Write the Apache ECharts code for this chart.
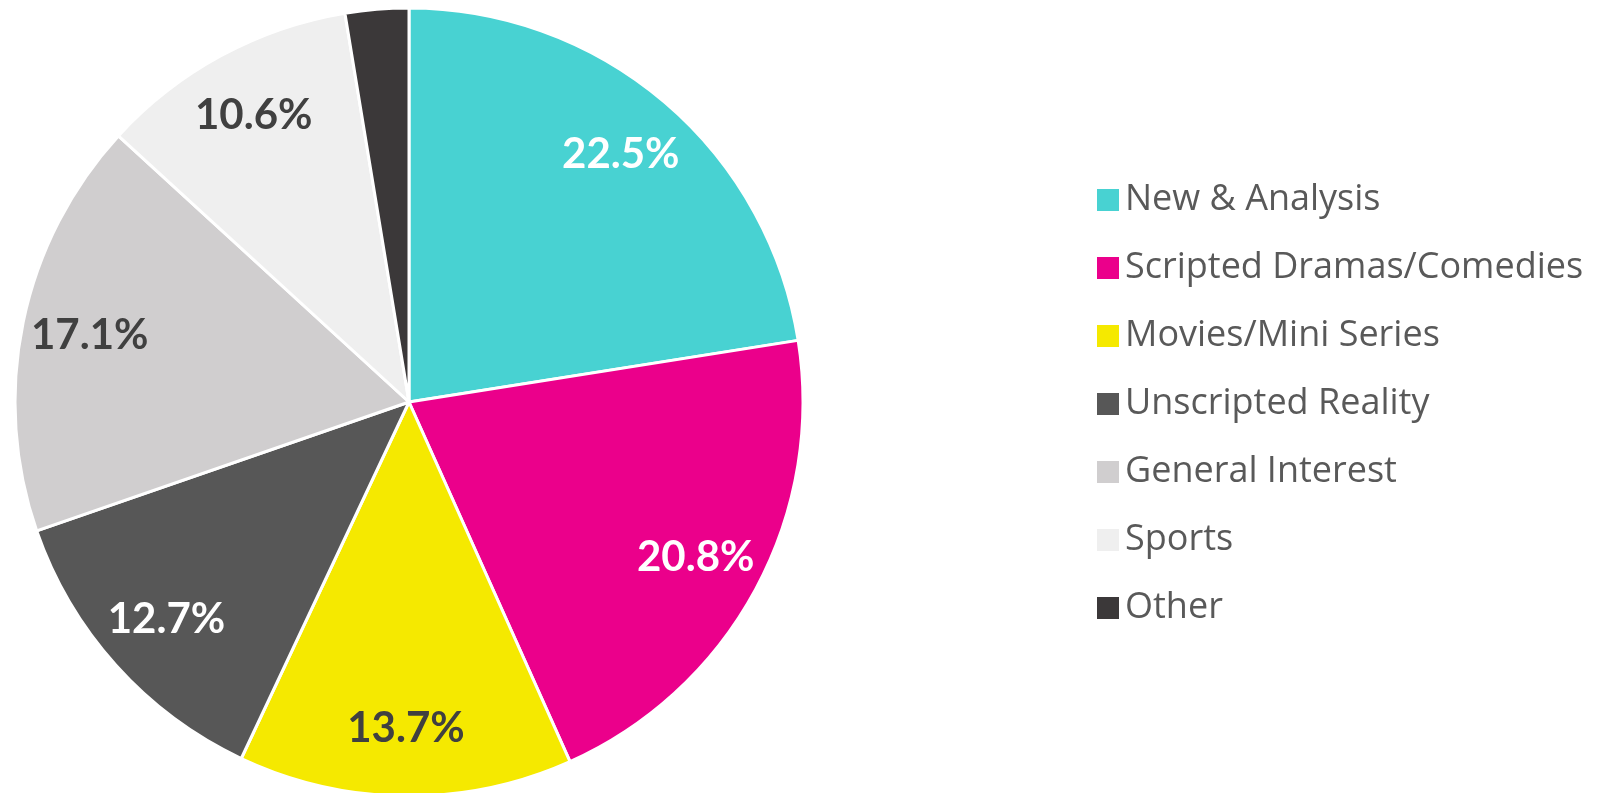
<!DOCTYPE html>
<html>
<head>
<meta charset="utf-8">
<script src="https://cdn.jsdelivr.net/npm/echarts@6/dist/echarts.min.js"></script>
<style>
  html, body { margin: 0; padding: 0; background: #fff; }
  #chart { width: 1598px; height: 793px; }
</style>
</head>
<body>
<div id="chart"></div>
<script>
const categories = ['New & Analysis', 'Scripted Dramas/Comedies', 'Movies/Mini Series',
  'Unscripted Reality', 'General Interest', 'Sports', 'Other']
const shares = [22.5, 20.8, 13.7, 12.7, 17.1, 10.6, 2.6]
const colors = ['#48d2d2', '#eb008b', '#f5e900', '#575757', '#d0cecf', '#efefef', '#3b3839']
const labelColors = ['#fff', '#fff', '#404040', '#fff', '#404040', '#404040', '#fff']
const showLabel = [true, true, true, true, true, true, false]

const center = [409, 402]
const R = 394

const chart = echarts.init(document.getElementById('chart'))

chart.setOption({
  animation: false,
  color: colors,
  legend: {
    orient: 'vertical',
    left: 1090,
    top: 177,
    icon: 'rect',
    itemWidth: 24,
    itemHeight: 24,
    itemGap: 32,
    data: categories,
    textStyle: {
      fontFamily: 'Open Sans',
      fontSize: 36,
      color: '#595959',
      padding: [0, 0, 8, 0]
    }
  },
  series: [
    {
      type: 'pie',
      center: center,
      radius: [0, R],
      startAngle: 90,
      clockwise: true,
      silent: true,
      label: { show: false },
      labelLine: { show: false },
      itemStyle: { borderColor: '#fff', borderWidth: 3 },
      data: categories.map((name, i) => ({ name, value: shares[i] }))
    },
    {
      // transparent ring that only carries the percentage labels
      type: 'pie',
      center: center,
      radius: [R * 0.64, R],
      startAngle: 90,
      clockwise: true,
      silent: true,
      itemStyle: { color: 'rgba(0,0,0,0)' },
      emphasis: { disabled: true },
      labelLine: { show: false },
      label: {
        position: 'inside',
        fontFamily: 'Lato',
        fontWeight: 'bold',
        fontSize: 42,
        formatter: p => p.value.toFixed(1) + '%'
      },
      data: categories.map((name, i) => ({
        name,
        value: shares[i],
        label: { show: showLabel[i], color: labelColors[i] }
      }))
    }
  ]
})
</script>
</body>
</html>
